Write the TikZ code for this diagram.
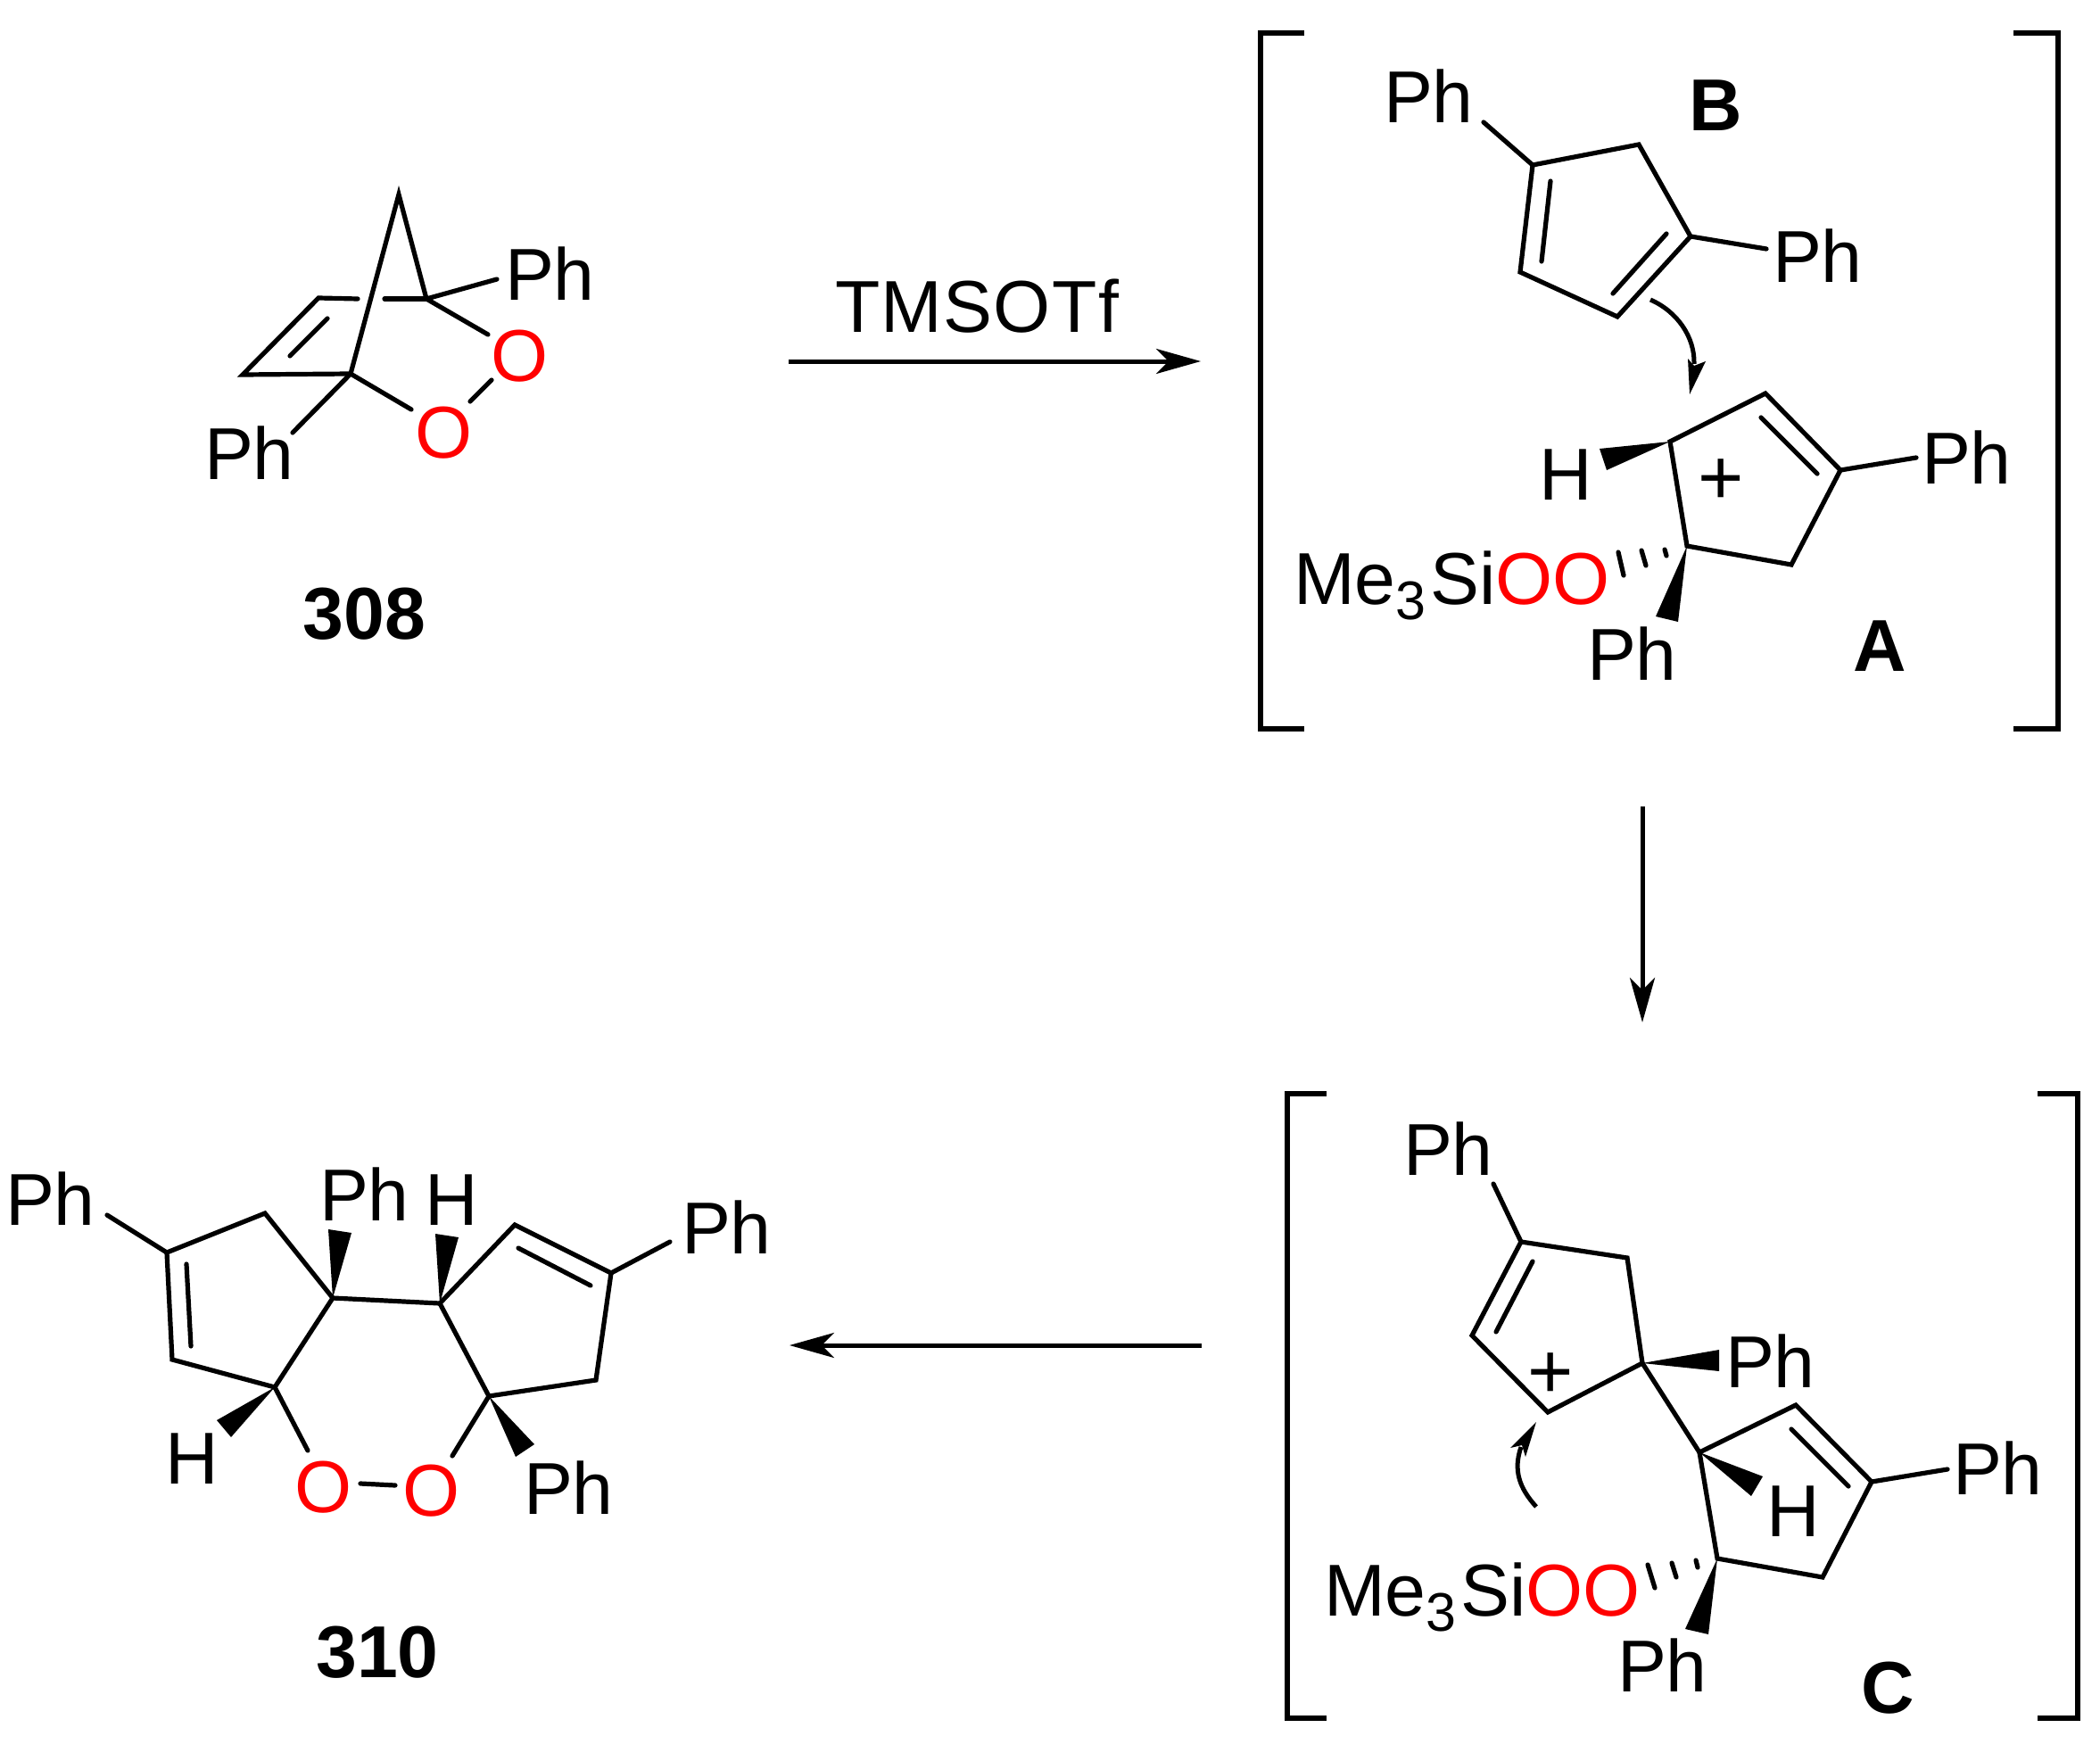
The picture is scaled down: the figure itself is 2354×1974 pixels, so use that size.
\documentclass[tikz,border=0pt]{standalone}
\usepackage{fontspec}
\setmainfont{Liberation Sans}
\usetikzlibrary{arrows.meta}
\definecolor{oxy}{RGB}{255,0,0}
\newcommand{\chemsize}{\fontsize{41.2}{41.2}\selectfont}
\newcommand{\subsize}{\fontsize{30.5}{30.5}\selectfont}
\newcommand{\silylox}{Me\raisebox{-8.5pt}{\subsize 3}\kern2.6pt Si\textcolor{oxy}{OO}}
\tikzset{
  x=0.5pt,y=-0.5pt,
  lab/.style={inner sep=0pt,outer sep=0pt,anchor=base west,font=\chemsize,text=black},
  cen/.style={inner sep=0pt,outer sep=0pt,anchor=base,font=\chemsize,text=black},
  pluslab/.style={cen,font=\fontsize{44}{44}\selectfont},
  oxlab/.style={cen,text=oxy},
  bold/.style={cen,font=\chemsize\bfseries},
  bond/.style={line width=2.6pt,line cap=round,line join=miter,draw=black},
  hash/.style={line width=2.6pt,line cap=round,draw=black},
  brk/.style={line width=2.8pt,line cap=butt,line join=miter,draw=black},
  rxn/.style={line width=2.5pt,draw=black,-{Stealth[length=25pt,width=14pt,inset=7pt]}},
  curly/.style={line width=2.5pt,line cap=butt,draw=black},
  wedge/.style={fill=black,draw=none},
}
\begin{document}
\begin{tikzpicture}
\useasboundingbox (0,0) rectangle (2354,1974);
\fill[white] (0,0) rectangle (2354,1974);

% ---------- 308 ----------
\coordinate (p1) at (447,218);
\coordinate (p2) at (478,335);
\coordinate (p3) at (393,419);
\coordinate (p4) at (357,334);
\coordinate (p5) at (272,420);
\coordinate (p2g) at (431,335);
\coordinate (p4g) at (401,335);
\coordinate (pd1) at (367,357);
\coordinate (pd2) at (325,399);
\coordinate (pa) at (557,313);
\coordinate (pb) at (547,375);
\coordinate (pc) at (461,459);
\coordinate (pe) at (551,426);
\coordinate (pf) at (527,450);
\coordinate (pg) at (328,485);
\node[lab] (ph1) at (566,337) {Ph};
\node[lab] (ph2) at (229,537) {Ph};
\node[oxlab] (o1) at (583,427) {O};
\node[oxlab] (o2) at (498,513) {O};
\node[bold] (n308) at (408.5,716) {308};
\draw[bond] (p3) -- (p1) -- (p2);
\draw[bond] (p4g) -- (p4) -- (p5) -- (p3);
\draw[bond] (p2g) -- (p2);
\draw[bond] (pd1) -- (pd2);
\draw[bond] (p2) -- (pa);
\draw[bond] (p2) -- (pb);
\draw[bond] (p3) -- (pc);
\draw[bond] (pe) -- (pf);
\draw[bond] (p3) -- (pg);

% ---------- reaction arrows ----------
\node[lab,font=\chemsize\addfontfeature{LetterSpace=1.6}] (tms) at (936,372) {TMSOTf};
\coordinate (r1s) at (884,405);
\coordinate (r1e) at (1346,405);
\draw[rxn] (r1s) -- (r1e);
\coordinate (r2s) at (1841,904);
\coordinate (r2e) at (1841,1146);
\draw[rxn] (r2s) -- (r2e);
\coordinate (r3s) at (1347,1508);
\coordinate (r3e) at (885,1508);
\draw[rxn] (r3s) -- (r3e);

% ---------- brackets top ----------
\coordinate (bl1) at (1462,37);
\coordinate (bl2) at (1413,37);
\coordinate (bl3) at (1413,817);
\coordinate (bl4) at (1462,817);
\coordinate (br1) at (2257,37);
\coordinate (br2) at (2307,37);
\coordinate (br3) at (2307,817);
\coordinate (br4) at (2257,817);
\draw[brk] (bl1) -- (bl2) -- (bl3) -- (bl4);
\draw[brk] (br1) -- (br2) -- (br3) -- (br4);

% ---------- B ----------
\coordinate (a1) at (1718,185);
\coordinate (a2) at (1837,162);
\coordinate (a3) at (1895,265);
\coordinate (a4) at (1813,355);
\coordinate (a5) at (1704,305);
\coordinate (ad1) at (1738,203);
\coordinate (ad2) at (1728,293);
\coordinate (ad3) at (1868,262);
\coordinate (ad4) at (1808,329);
\coordinate (apa) at (1663,137);
\coordinate (apb) at (1980,279);
\node[lab] (ph3) at (1551,138) {Ph};
\node[lab] (ph4) at (1987,317) {Ph};
\node[bold] (lb) at (1923,147) {B};
\draw[bond] (a1) -- (a2) -- (a3) -- (a4) -- (a5) -- cycle;
\draw[bond] (ad1) -- (ad2);
\draw[bond] (ad3) -- (ad4);
\draw[bond] (a1) -- (apa);
\draw[bond] (a3) -- (apb);
% curved arrow B -> A
\coordinate (cs) at (1850,336);
\coordinate (cc1) at (1880,349);
\coordinate (cc2) at (1900,378);
\coordinate (ce) at (1899,408);
\coordinate (ct) at (1894,442);
\coordinate (cb1) at (1892,402);
\coordinate (cn) at (1899,410);
\coordinate (cb2) at (1912,405);
\draw[curly] (cs) .. controls (cc1) and (cc2) .. (ce);
\fill[wedge] (ct) -- (cb1) -- (cn) -- (cb2) -- cycle;

% ---------- A ----------
\coordinate (b1) at (1872,495);
\coordinate (b2) at (1979,441);
\coordinate (b3) at (2063,527);
\coordinate (b4) at (2008,633);
\coordinate (b5) at (1891,612);
\coordinate (bd1) at (1974,468);
\coordinate (bd2) at (2037,531);
\coordinate (bpa) at (2148,513);
\coordinate (bw1) at (1793,503);
\coordinate (bw2) at (1801,527);
\coordinate (bw3) at (1856,691);
\coordinate (bw4) at (1881,697);
\coordinate (bh1a) at (1814,619);
\coordinate (bh1b) at (1820,645);
\coordinate (bh2a) at (1840,617);
\coordinate (bh2b) at (1845,634);
\coordinate (bh3a) at (1866,616);
\coordinate (bh3b) at (1868,623);
\node[lab] (ph5) at (2154,542) {Ph};
\node[lab] (ph6) at (1779,762) {Ph};
\node[lab] (h1) at (1725,560) {H};
\node[lab] (si1) at (1450,677) {\silylox};
\node[pluslab] (plus1) at (1929,565) {+};
\node[bold] (la) at (2107,752) {A};
\draw[bond] (b1) -- (b2) -- (b3) -- (b4) -- (b5) -- cycle;
\draw[bond] (bd1) -- (bd2);
\draw[bond] (b3) -- (bpa);
\fill[wedge] (b1) -- (bw1) -- (bw2) -- cycle;
\fill[wedge] (b5) -- (bw3) -- (bw4) -- cycle;
\draw[hash] (bh1a) -- (bh1b);
\draw[hash] (bh2a) -- (bh2b);
\draw[hash] (bh3a) -- (bh3b);

% ---------- brackets bottom ----------
\coordinate (cl1) at (1487,1226);
\coordinate (cl2) at (1443,1226);
\coordinate (cl3) at (1443,1926);
\coordinate (cl4) at (1487,1926);
\coordinate (cr1) at (2284,1226);
\coordinate (cr2) at (2329,1226);
\coordinate (cr3) at (2329,1926);
\coordinate (cr4) at (2284,1926);
\draw[brk] (cl1) -- (cl2) -- (cl3) -- (cl4);
\draw[brk] (cr1) -- (cr2) -- (cr3) -- (cr4);

% ---------- C upper ring ----------
\coordinate (c1) at (1705,1392);
\coordinate (c2) at (1824,1410);
\coordinate (c3) at (1841,1528);
\coordinate (c4) at (1735,1583);
\coordinate (c5) at (1650,1497);
\coordinate (cd1) at (1718,1414);
\coordinate (cd2) at (1677,1493);
\coordinate (cpa) at (1674,1327);
\coordinate (cw1) at (1927,1513);
\coordinate (cw2) at (1927,1537);
\node[lab] (ph7) at (1573,1317) {Ph};
\node[lab] (ph8) at (1934,1555) {Ph};
\node[pluslab] (plus2) at (1738,1567) {+};
\draw[bond] (c1) -- (c2) -- (c3) -- (c4) -- (c5) -- cycle;
\draw[bond] (cd1) -- (cd2);
\draw[bond] (c1) -- (cpa);
\fill[wedge] (c3) -- (cw1) -- (cw2) -- cycle;
% curved arrow
\coordinate (ds) at (1722,1689);
\coordinate (dc1) at (1703,1668);
\coordinate (dc2) at (1696,1648);
\coordinate (de) at (1705,1622);
\coordinate (dt) at (1722,1594);
\coordinate (db1) at (1693,1623);
\coordinate (dn) at (1706,1620);
\coordinate (db2) at (1710,1633);
\draw[curly] (ds) .. controls (dc1) and (dc2) .. (de);
\fill[wedge] (dt) -- (db1) -- (dn) -- (db2) -- cycle;

% ---------- C lower ring ----------
\coordinate (d1) at (1905,1628);
\coordinate (d2) at (2013,1575);
\coordinate (d3) at (2098,1661);
\coordinate (d4) at (2043,1768);
\coordinate (d5) at (1925,1747);
\coordinate (dd1) at (2008,1602);
\coordinate (dd2) at (2072,1666);
\coordinate (dpa) at (2183,1647);
\coordinate (dw1) at (1976,1655);
\coordinate (dw2) at (1963,1677);
\coordinate (dw3) at (1889,1826);
\coordinate (dw4) at (1915,1832);
\coordinate (dh1a) at (1847,1754);
\coordinate (dh1b) at (1855,1780);
\coordinate (dh2a) at (1874,1752);
\coordinate (dh2b) at (1879,1768);
\coordinate (dh3a) at (1901,1749);
\coordinate (dh3b) at (1903,1757);
\node[lab] (ph9) at (2189,1675) {Ph};
\node[lab] (ph10) at (1813,1896) {Ph};
\node[lab] (h2) at (1980,1722) {H};
\node[lab] (si2) at (1484,1811) {\silylox};
\node[bold] (lc) at (2116,1920) {C};
\draw[bond] (d1) -- (d2) -- (d3) -- (d4) -- (d5) -- cycle;
\draw[bond] (c3) -- (d1);
\draw[bond] (dd1) -- (dd2);
\draw[bond] (d3) -- (dpa);
\fill[wedge] (d1) -- (dw1) -- (dw2) -- cycle;
\fill[wedge] (d5) -- (dw3) -- (dw4) -- cycle;
\draw[hash] (dh1a) -- (dh1b);
\draw[hash] (dh2a) -- (dh2b);
\draw[hash] (dh3a) -- (dh3b);

% ---------- 310 ----------
\coordinate (e1) at (187,1404);
\coordinate (e2) at (297,1360);
\coordinate (e3) at (373,1455);
\coordinate (e4) at (308,1555);
\coordinate (e5) at (193,1524);
\coordinate (ed1) at (209,1417);
\coordinate (ed2) at (214,1509);
\coordinate (epa) at (120,1362);
\coordinate (ew1) at (368,1378);
\coordinate (ew2) at (394,1382);
\coordinate (ew3) at (243,1592);
\coordinate (ew4) at (259,1611);
\coordinate (eo) at (345,1626);
\coordinate (oo1) at (404,1663);
\coordinate (oo2) at (443,1665);
\coordinate (f1) at (493,1461);
\coordinate (f2) at (577,1373);
\coordinate (f3) at (685,1427);
\coordinate (f4) at (668,1547);
\coordinate (f5) at (548,1565);
\coordinate (fd1) at (581,1399);
\coordinate (fd2) at (662,1441);
\coordinate (fpa) at (751,1392);
\coordinate (fw1) at (488,1383);
\coordinate (fw2) at (514,1387);
\coordinate (fw3) at (599,1619);
\coordinate (fw4) at (578,1633);
\coordinate (fo) at (507,1632);
\node[lab] (ph11) at (6,1373) {Ph};
\node[lab] (ph12) at (358,1368) {Ph};
\node[lab] (h3) at (476,1373) {H};
\node[lab] (ph13) at (764,1405) {Ph};
\node[lab] (h4) at (185,1663) {H};
\node[lab] (ph14) at (587,1697) {Ph};
\node[oxlab] (o3) at (363,1695) {O};
\node[oxlab] (o4) at (484,1699) {O};
\node[bold] (n310) at (423,1880) {310};
\draw[bond] (e1) -- (e2) -- (e3) -- (e4) -- (e5) -- cycle;
\draw[bond] (ed1) -- (ed2);
\draw[bond] (e1) -- (epa);
\draw[bond] (e3) -- (f1);
\draw[bond] (e4) -- (eo);
\draw[bond] (oo1) -- (oo2);
\draw[bond] (f1) -- (f2) -- (f3) -- (f4) -- (f5) -- cycle;
\draw[bond] (fd1) -- (fd2);
\draw[bond] (f3) -- (fpa);
\draw[bond] (f5) -- (fo);
\fill[wedge] (e3) -- (ew1) -- (ew2) -- cycle;
\fill[wedge] (e4) -- (ew3) -- (ew4) -- cycle;
\fill[wedge] (f1) -- (fw1) -- (fw2) -- cycle;
\fill[wedge] (f5) -- (fw3) -- (fw4) -- cycle;
\end{tikzpicture}
\end{document}
